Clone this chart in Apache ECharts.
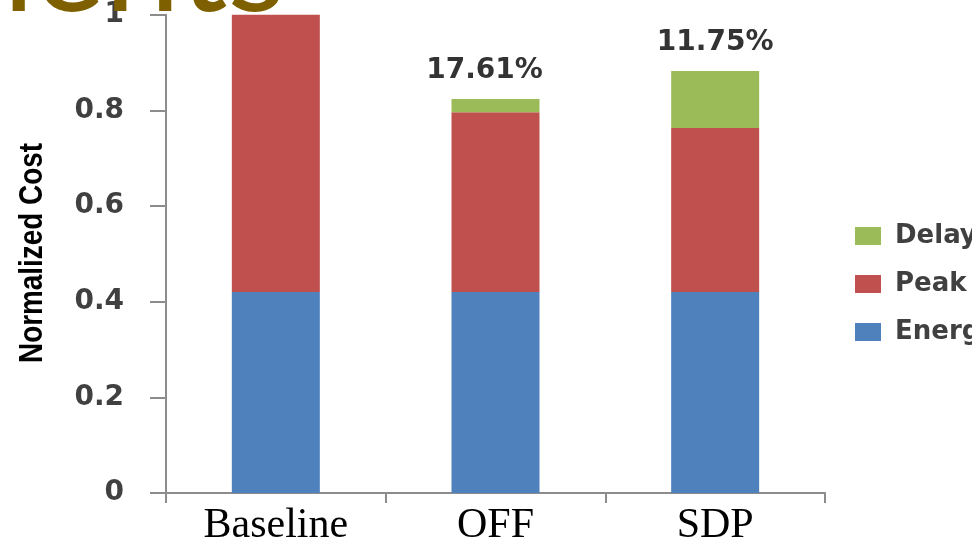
<!DOCTYPE html>
<html>
<head>
<meta charset="utf-8">
<script src="https://cdn.jsdelivr.net/npm/echarts@6/dist/echarts.min.js"></script>
<style>
  html, body { margin: 0; padding: 0; background: #ffffff; }
  #chart { width: 972px; height: 547px; }
</style>
</head>
<body>
<div id="chart"></div>
<script>
// Cost breakdown per scheme (normalized to Baseline = 1)
const categories = ['Baseline', 'OFF', 'SDP'];
const energyCost = [0.42, 0.42, 0.42];
const peakCost   = [0.58, 0.376, 0.343];
const delayCost  = [0, 0.0279, 0.1195];
const seriesNames = ['Energy Cost', 'Peak Cost', 'Delay Cost'];
const yTicks = { min: 0, max: 1, interval: 0.2 };
const yAxisTitle = 'Normalized Cost';
const headline = 'Experiments';

// Styling
const colors = { energy: '#4F81BD', peak: '#C0504D', delay: '#9BBB59' };
const axisGray = '#8c8c8c';
const sansBold = '"DejaVu Sans", Verdana, sans-serif';
const labelShiftX = [0, -11, 0];

const chart = echarts.init(document.getElementById('chart'), null, { renderer: 'canvas' });

function savingLabel(i) {
  if (!delayCost[i]) return '';
  const total = energyCost[i] + peakCost[i] + delayCost[i];
  return ((1 - total) * 100).toFixed(2) + '%';
}

const delayData = delayCost.map((v, i) => ({
  value: v,
  label: { offset: [labelShiftX[i], 0] }
}));

const option = {
  backgroundColor: '#ffffff',
  animation: false,
  graphic: [
    {
      // slide heading, mostly above the visible area
      type: 'text',
      z: 10,
      style: {
        text: headline,
        x: 286,
        y: -100,
        align: 'right',
        verticalAlign: 'top',
        fill: '#7F6000',
        font: '135px Lato, "Open Sans", sans-serif'
      }
    },
    {
      // condensed vertical axis title
      type: 'text',
      x: 33,
      y: 253,
      rotation: Math.PI / 2,
      scaleX: 0.82,
      style: {
        text: yAxisTitle,
        align: 'center',
        verticalAlign: 'middle',
        fill: '#000000',
        font: 'bold 34px "Liberation Sans", Arial, sans-serif'
      }
    }
  ],
  grid: { left: 166, right: 147, top: 14.7, bottom: 53, containLabel: false },
  legend: {
    orient: 'vertical',
    left: 855,
    top: 223,
    padding: 0,
    itemWidth: 26,
    itemHeight: 18,
    itemGap: 22,
    icon: 'rect',
    data: [seriesNames[2], seriesNames[1], seriesNames[0]],
    textStyle: { fontFamily: sansBold, fontWeight: 'bold', fontSize: 26, color: '#404040', padding: [0, 0, 0, 9] }
  },
  xAxis: {
    type: 'category',
    data: categories,
    boundaryGap: true,
    axisLine: { lineStyle: { color: axisGray, width: 2 } },
    axisTick: { show: true, length: 10, alignWithLabel: false, lineStyle: { color: axisGray, width: 2 } },
    axisLabel: { margin: 12, color: '#000000', fontFamily: '"Liberation Serif", "Times New Roman", serif', fontSize: 42 }
  },
  yAxis: {
    type: 'value',
    min: yTicks.min,
    max: yTicks.max,
    interval: yTicks.interval,
    splitLine: { show: false },
    axisLine: { show: true, lineStyle: { color: axisGray, width: 2 } },
    axisTick: { show: true, length: 16, lineStyle: { color: axisGray, width: 2 } },
    axisLabel: { margin: 42, fontFamily: sansBold, fontWeight: 'bold', fontSize: 28, color: '#404040' }
  },
  series: [
    {
      name: seriesNames[0], type: 'bar', stack: 'cost', barWidth: 88,
      itemStyle: { color: colors.energy }, data: energyCost
    },
    {
      name: seriesNames[1], type: 'bar', stack: 'cost', barWidth: 88,
      itemStyle: { color: colors.peak }, data: peakCost
    },
    {
      name: seriesNames[2], type: 'bar', stack: 'cost', barWidth: 88,
      itemStyle: { color: colors.delay }, data: delayData,
      label: {
        show: true, position: 'top', distance: 14,
        formatter: p => savingLabel(p.dataIndex),
        fontFamily: sansBold, fontWeight: 'bold', fontSize: 28, color: '#333333'
      }
    }
  ]
};

chart.setOption(option);
</script>
</body>
</html>
